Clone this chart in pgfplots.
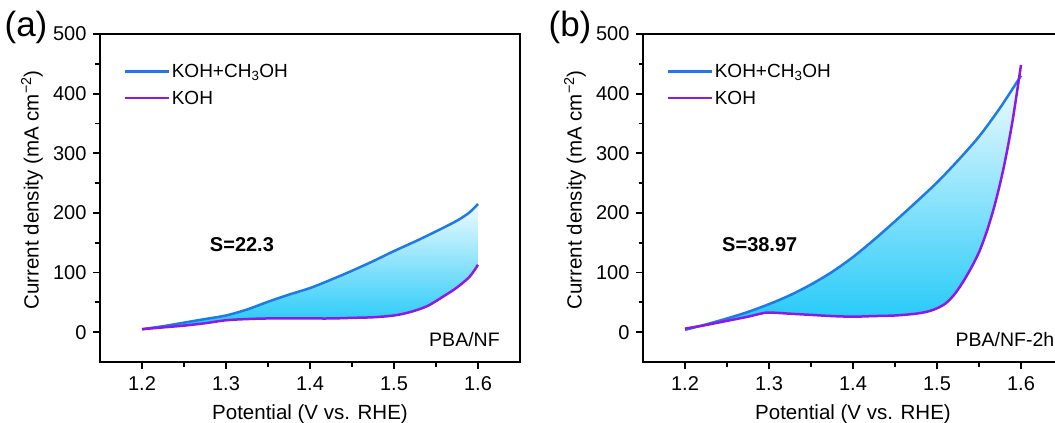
\documentclass[border=0pt]{standalone}
\usepackage{fontspec}
\setmainfont{Liberation Sans}
\usepackage{pgfplots}
\usepackage{pgfplotstable}
\pgfplotsset{compat=1.18}
\definecolor{cblue}{RGB}{30,122,230}
\definecolor{cpurple}{RGB}{140,25,230}
\definecolor{ctop}{RGB}{238,251,255}
\definecolor{cbot}{RGB}{30,200,248}

\pgfplotstableread{
x y
1.200 5
1.225 10
1.250 16
1.275 22
1.300 28
1.325 38
1.350 51
1.375 63
1.400 74
1.425 88
1.450 103
1.475 119
1.500 136
1.525 152
1.550 169
1.575 187
1.590 201
1.600 215
}\blueA
\pgfplotstableread{
x y
1.200 5
1.225 8
1.250 11
1.275 15
1.300 20
1.325 22
1.350 23
1.375 23
1.400 23
1.425 23
1.450 24
1.475 25
1.500 28
1.520 34
1.540 44
1.560 61
1.575 75
1.590 93
1.600 113
}\purpleA
% area between the two curves (blue forward, KOH backward)
\pgfplotstableread{
x y
1.200 5
1.225 10
1.250 16
1.275 22
1.300 28
1.325 38
1.350 51
1.375 63
1.400 74
1.425 88
1.450 103
1.475 119
1.500 136
1.525 152
1.550 169
1.575 187
1.590 201
1.600 215
1.600 113
1.590 93
1.575 75
1.560 61
1.540 44
1.520 34
1.500 28
1.475 25
1.450 24
1.425 23
1.400 23
1.375 23
1.350 23
1.325 22
1.300 20
1.275 15
1.250 11
1.225 8
1.200 5
}\areaA
\pgfplotstableread{
x y
1.200 4
1.225 13
1.250 23
1.275 34
1.300 47
1.325 62
1.350 80
1.375 101
1.400 126
1.425 155
1.450 186
1.475 218
1.500 251
1.525 288
1.550 328
1.575 376
1.600 430
}\blueB
\pgfplotstableread{
x y
1.200 6
1.225 12
1.250 19
1.275 26
1.290 31
1.300 33
1.325 31
1.350 29
1.375 27
1.400 26
1.425 27
1.450 28
1.475 31
1.490 35
1.500 40
1.510 48
1.520 62
1.530 82
1.540 106
1.550 134
1.560 172
1.570 220
1.580 280
1.590 355
1.600 448
}\purpleB
\pgfplotstableread{
x y
1.200 4
1.225 13
1.250 23
1.275 34
1.300 47
1.325 62
1.350 80
1.375 101
1.400 126
1.425 155
1.450 186
1.475 218
1.500 251
1.525 288
1.550 328
1.575 376
1.597 420
1.590 355
1.580 280
1.570 220
1.560 172
1.550 134
1.540 106
1.530 82
1.520 62
1.510 48
1.500 40
1.490 35
1.475 31
1.450 28
1.425 27
1.400 26
1.375 27
1.350 29
1.325 31
1.300 33
1.290 31
1.275 26
1.250 19
1.225 12
1.200 6
}\areaB

\pgfplotsset{
 panel/.style={
  scale only axis, width=420pt, height=328pt,
  xmin=1.15, xmax=1.65, ymin=-50, ymax=500,
  xtick={1.2,1.3,1.4,1.5,1.6}, ytick={0,100,...,500},
  minor x tick num=1, minor y tick num=1,
  tick pos=left, tick align=outside,
  major tick length=7pt, minor tick length=4.5pt,
  every tick/.append style={black, line width=1.8pt},
  every minor tick/.append style={black, line width=1.8pt},
  axis line style={line width=1.8pt},
  /pgf/number format/assume math mode=true,
  tick label style={font=\fontsize{20}{22}\selectfont},
  xticklabel style={/pgf/number format/fixed, /pgf/number format/fixed zerofill, /pgf/number format/precision=1, yshift=-4pt},
  yticklabel style={xshift=-3pt},
  label style={font=\fontsize{20.5}{24}\selectfont},
  xlabel={Potential (V vs. RHE)},
  ylabel={Current density (mA cm\textsuperscript{−2})},
  xlabel style={at={(axis description cs:0.5,0)}, anchor=base, yshift=-57pt},
  ylabel style={at={(axis description cs:-0.162,0.525)}, anchor=center},
  legend style={at={(axis description cs:0.055,0.915)}, anchor=north west, draw=none, fill=none, inner sep=0pt, font=\fontsize{19}{22}\selectfont, row sep=8pt},
  legend cell align=left,
  legend image code/.code={\draw[##1] (0pt,0pt) -- (44pt,0pt);},
  clip=false,
 },
 cb/.style={cblue, line width=2.5pt, smooth},
 cp/.style={cpurple, line width=2.5pt, smooth},
 ar/.style={draw=none, top color=ctop, bottom color=cbot, forget plot},
}

\begin{document}
\begin{tikzpicture}
\begin{scope}
\clip (0pt,0pt) rectangle (1055pt,423pt);
\begin{axis}[panel, at={(100pt,61pt)}, anchor=south west]
\addplot[ar] table {\areaA} -- cycle;
\addplot[cb] table {\blueA};
\addlegendentry{KOH+CH\textsubscript{3}OH}
\addplot[cp] table {\purpleA};
\addlegendentry{KOH}
\node[font=\bfseries\fontsize{20}{24}\selectfont] at (axis cs:1.319,147) {S=22.3};
\node[anchor=east, font=\fontsize{19.5}{22}\selectfont] at (axis cs:1.63,-12) {PBA/NF};
\end{axis}
\begin{axis}[panel, at={(643pt,61pt)}, anchor=south west]
\addplot[ar] table {\areaB} -- cycle;
\addplot[cb] table {\blueB};
\addlegendentry{KOH+CH\textsubscript{3}OH}
\addplot[cp] table {\purpleB};
\addlegendentry{KOH}
\node[font=\bfseries\fontsize{20}{24}\selectfont] at (axis cs:1.289,147) {S=38.97};
\node[anchor=west, font=\fontsize{19.5}{22}\selectfont] at (axis cs:1.518,-12) {PBA/NF-2h};
\end{axis}
\node[font=\fontsize{35}{40}\selectfont] at (26pt,396pt) {(a)};
\node[font=\fontsize{35}{40}\selectfont] at (570pt,396pt) {(b)};
\end{scope}
\pgfresetboundingbox
\path[use as bounding box] (0pt,0pt) rectangle (1055pt,423pt);
\end{tikzpicture}
\end{document}
